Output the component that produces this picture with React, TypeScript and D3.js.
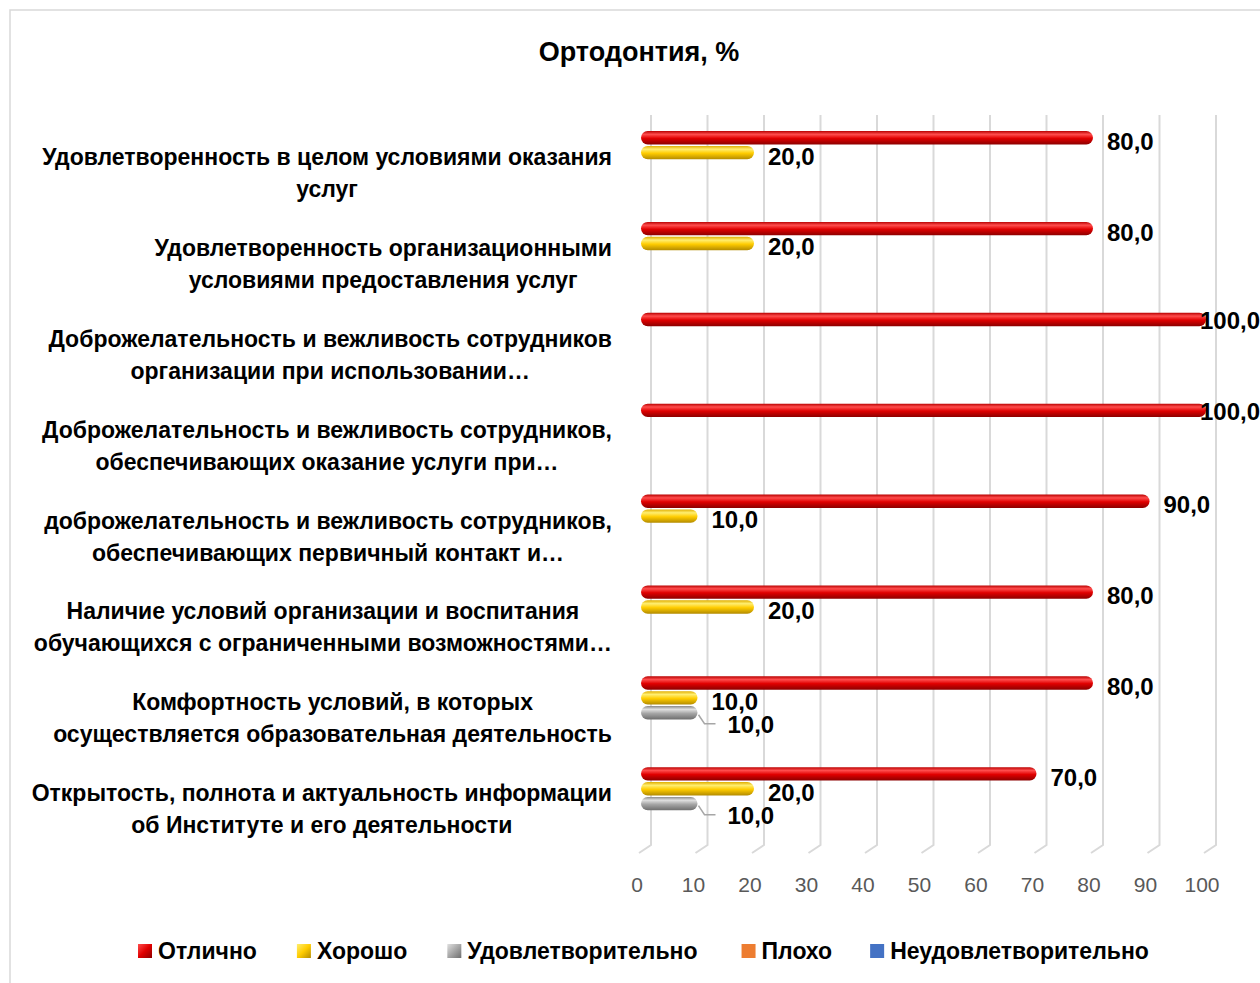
import { useRef, useEffect } from 'react';
import * as d3 from 'd3';

const chartTitle = 'Ортодонтия, %';

const categories = [
  ['Удовлетворенность в целом условиями оказания', 'услуг'],
  ['Удовлетворенность организационными', 'условиями предоставления услуг'],
  ['Доброжелательность и вежливость сотрудников', 'организации при использовании…'],
  ['Доброжелательность и вежливость сотрудников,', 'обеспечивающих оказание услуги при…'],
  ['доброжелательность и вежливость сотрудников,', 'обеспечивающих первичный контакт и…'],
  ['Наличие условий организации и воспитания', 'обучающихся с ограниченными возможностями…'],
  ['Комфортность условий, в которых', 'осуществляется образовательная деятельность'],
  ['Открытость, полнота и актуальность информации', 'об Институте и его деятельности'],
];

const seriesNames = ['Отлично', 'Хорошо', 'Удовлетворительно', 'Плохо', 'Неудовлетворительно'];

const excellent = [80, 80, 100, 100, 90, 80, 80, 70];
const good = [20, 20, 0, 0, 10, 20, 10, 20];
const satisfactory = [0, 0, 0, 0, 0, 0, 10, 10];
const bad = [0, 0, 0, 0, 0, 0, 0, 0];
const unsatisfactory = [0, 0, 0, 0, 0, 0, 0, 0];

const xTicks = [0, 10, 20, 30, 40, 50, 60, 70, 80, 90, 100];

// [shadow, highlight, main, dark]
const palette = [
  ['#b80000', '#ff4d4d', '#e00000', '#8c0000'],
  ['#e0ae00', '#ffee70', '#ffcc00', '#b38b00'],
  ['#8a8a8a', '#e0e0e0', '#a6a6a6', '#6e6e6e'],
  ['#ED7D31', '#ED7D31', '#ED7D31', '#ED7D31'],
  ['#4472C4', '#4472C4', '#4472C4', '#4472C4'],
];

const FONT = '"Liberation Sans", Arial, sans-serif';

function drawChart(svgEl: SVGSVGElement) {
  const svg = d3.select(svgEl);
  svg.selectAll('*').remove();

  const values = [excellent, good, satisfactory, bad, unsatisfactory];
  const defs = svg.append('defs');
  palette.forEach((c, i) => {
    const g = defs.append('linearGradient').attr('id', `cyl${i}`).attr('x1', 0).attr('y1', 0).attr('x2', 0).attr('y2', 1);
    g.append('stop').attr('offset', '0%').attr('stop-color', c[0]);
    g.append('stop').attr('offset', '25%').attr('stop-color', c[1]);
    g.append('stop').attr('offset', '55%').attr('stop-color', c[2]);
    g.append('stop').attr('offset', '100%').attr('stop-color', c[3]);
    const m = defs.append('linearGradient').attr('id', `mark${i}`).attr('x1', 0).attr('y1', 0).attr('x2', 1).attr('y2', 1);
    m.append('stop').attr('offset', '0%').attr('stop-color', c[1]);
    m.append('stop').attr('offset', '50%').attr('stop-color', c[2]);
    m.append('stop').attr('offset', '100%').attr('stop-color', c[3]);
  });

  // chart frame
  svg.append('path').attr('d', 'M10,983 V10 H1260').attr('fill', 'none').attr('stroke', '#d9d9d9').attr('stroke-width', 1.5);

  svg.append('text')
    .attr('x', 639).attr('y', 61)
    .attr('text-anchor', 'middle')
    .style('font-family', FONT).style('font-weight', 'bold').style('font-size', '27px')
    .text(chartTitle);

  const x = d3.scaleLinear().domain([0, 100]).range([641, 1206]);
  const y = d3.scaleBand<number>().domain(d3.range(categories.length)).range([115, 842]);
  const ys = d3.scaleBand<number>().domain(d3.range(seriesNames.length)).range([16, 89]).paddingInner(0.1);
  const depth = { dx: 12, dy: 8 };

  // gridlines (3D walls)
  svg.append('g').selectAll('path').data(xTicks).join('path')
    .attr('d', (d) => `M${x(d) + depth.dx - 2},115 V845 l${-depth.dx},${depth.dy}`)
    .attr('fill', 'none').attr('stroke', '#d9d9d9').attr('stroke-width', 2);

  svg.append('g').selectAll('text').data(xTicks).join('text')
    .attr('x', (d) => x(d) - 4).attr('y', 892)
    .attr('text-anchor', 'middle')
    .style('font-family', FONT).style('font-size', '21px').style('fill', '#595959')
    .text((d) => d);

  // category labels
  const labels = svg.append('g');
  categories.forEach((lines, i) => {
    const grp = labels.append('g');
    const cy = y(i)! + 58;
    const texts = lines.map((ln, k) => grp.append('text')
      .attr('y', cy + (k - (lines.length - 1) / 2) * 32 + 8)
      .attr('text-anchor', 'middle')
      .style('font-family', FONT).style('font-weight', 'bold').style('font-size', '23px')
      .text(ln));
    const w = d3.max(texts, (t) => (t.node() as SVGTextElement).getComputedTextLength()) || 0;
    texts.forEach((t) => t.attr('x', 612 - w / 2));
  });

  // bars
  const barG = svg.append('g');
  const lblG = svg.append('g');
  values.forEach((arr, s) => {
    arr.forEach((v, i) => {
      if (v <= 0) return;
      const by = y(i)! + ys(s)!;
      const bh = ys.bandwidth();
      barG.append('rect')
        .attr('x', x(0)).attr('y', by)
        .attr('width', x(v) - x(0)).attr('height', bh)
        .attr('rx', bh / 2)
        .attr('fill', `url(#cyl${s})`);
      const label = d3.format('.1f')(v).replace('.', ',');
      const cyc = by + bh / 2;
      if (s === 2) {
        const lx = x(v) + 16;
        const ly = cyc + 12;
        lblG.append('path')
          .attr('d', `M${x(v) + 1},${cyc + 2} L${x(v) + 7},${ly - 1} H${lx + 2}`)
          .attr('fill', 'none').attr('stroke', '#a6a6a6').attr('stroke-width', 1.5);
        lblG.append('text')
          .attr('x', lx + 14).attr('y', ly + 8)
          .style('font-family', FONT).style('font-weight', 'bold').style('font-size', '24px')
          .text(label);
      } else {
        const t = lblG.append('text')
          .attr('x', x(v) + 14).attr('y', cyc + 12)
          .style('font-family', FONT).style('font-weight', 'bold').style('font-size', '24px')
          .text(label);
        const tw = (t.node() as SVGTextElement).getComputedTextLength();
        if (x(v) + 14 + tw > 1260) t.attr('x', 1260 - tw).attr('y', cyc + 10);
      }
    });
  });

  // legend
  const legend = svg.append('g');
  let lx = 138;
  const gaps = [40, 40, 44, 38, 0];
  seriesNames.forEach((name, s) => {
    legend.append('rect').attr('x', lx).attr('y', 944).attr('width', 14).attr('height', 14)
      .attr('fill', s < 3 ? `url(#mark${s})` : palette[s][2]);
    const t = legend.append('text')
      .attr('x', lx + 20).attr('y', 959)
      .style('font-family', FONT).style('font-weight', 'bold').style('font-size', '23px')
      .text(name);
    const tw = (t.node() as SVGTextElement).getComputedTextLength();
    lx += 20 + tw + gaps[s];
  });
}

export default function App() {
  const ref = useRef<SVGSVGElement>(null);

  useEffect(() => {
    if (!ref.current) return;
    drawChart(ref.current);
  }, []);

  return (
    <svg
      ref={ref}
      width={1260}
      height={983}
      style={{ position: 'absolute', left: 0, top: 0, background: '#fff' }}
    />
  );
}
